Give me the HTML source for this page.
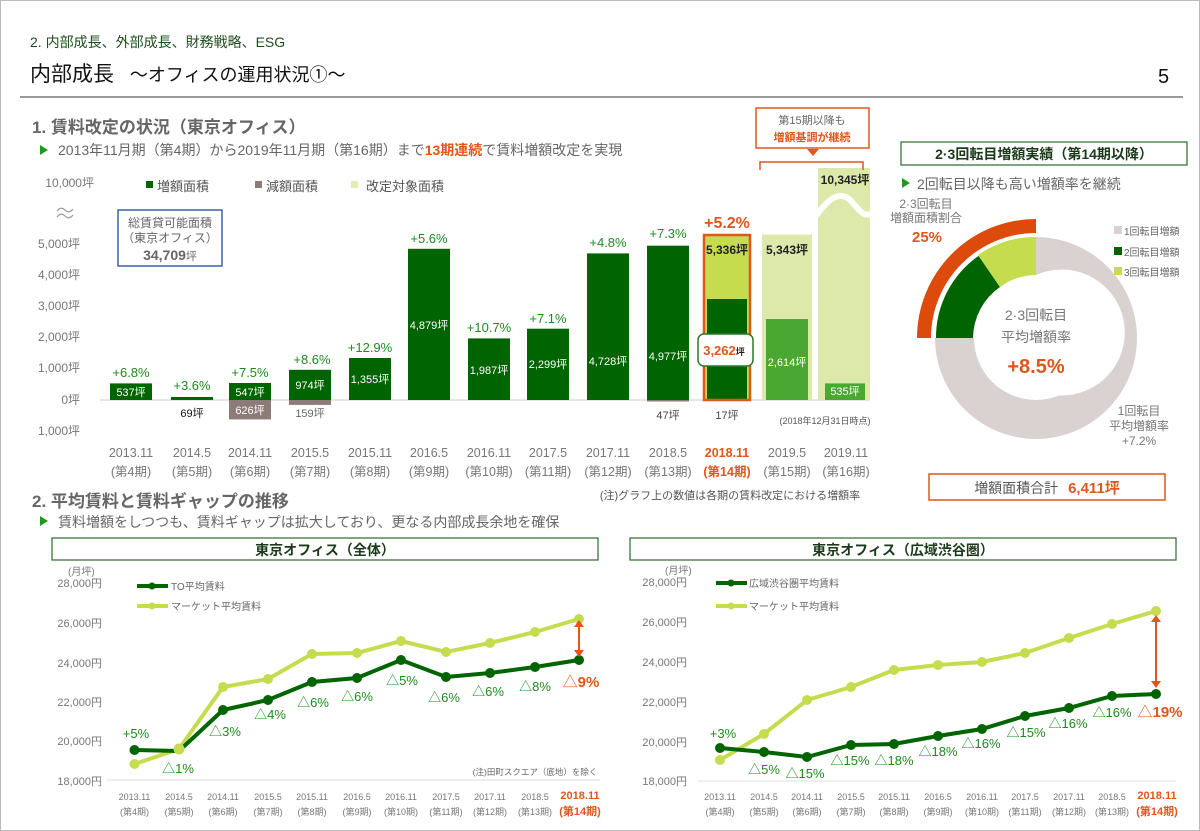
<!DOCTYPE html>
<html><head><meta charset="utf-8"><style>
html,body{margin:0;padding:0;background:#fff}
svg{display:block;font-family:"Liberation Sans","Noto Sans CJK JP",sans-serif}
</style></head><body>
<svg width="1200" height="831" viewBox="0 0 1200 831" xmlns="http://www.w3.org/2000/svg">
<rect x="0.5" y="0.5" width="1199" height="830" fill="#fff" stroke="#bbb"/>
<!-- header -->
<text x="30" y="47" font-size="14" fill="#1f4e1f">2. 内部成長、外部成長、財務戦略、ESG</text>
<text x="30" y="81" font-size="21" fill="#111">内部成長 <tspan font-size="18" dx="10">～オフィスの運用状況①～</tspan></text>
<text x="1158" y="83" font-size="20" fill="#111">5</text>
<line x1="20" y1="97" x2="1183" y2="97" stroke="#333" stroke-width="1"/>

<!-- section 1 -->
<text x="32" y="133" font-size="17" font-weight="bold" fill="#666">1. 賃料改定の状況（東京オフィス）</text>
<path d="M40,145 l8,5 l-8,5z" fill="#1e9a1e"/>
<text x="58" y="155" font-size="14" fill="#666">2013年11月期（第4期）から2019年11月期（第16期）まで<tspan fill="#e0561c" font-weight="bold">13期連続</tspan>で賃料増額改定を実現</text>

<!-- y axis bar chart -->
<g font-size="12" fill="#777" text-anchor="end">
<text x="94" y="187">10,000坪</text>
<text x="80" y="248">5,000坪</text>
<text x="80" y="279">4,000坪</text>
<text x="80" y="310">3,000坪</text>
<text x="80" y="341">2,000坪</text>
<text x="80" y="372">1,000坪</text>
<text x="80" y="404">0坪</text>
<text x="80" y="435">1,000坪</text>
</g>
<path d="M57,211 q4,-5 8,-1 t8,-1 M57,217 q4,-5 8,-1 t8,-1" stroke="#999" stroke-width="1.2" fill="none"/>
<!-- legend -->
<rect x="146" y="181" width="7" height="7" fill="#006400"/><text x="157" y="191" font-size="13" fill="#555">増額面積</text>
<rect x="255" y="181" width="7" height="7" fill="#8c7b78"/><text x="266" y="191" font-size="13" fill="#555">減額面積</text>
<rect x="351" y="181" width="7" height="7" fill="#e2edb2"/><text x="366" y="191" font-size="13" fill="#555">改定対象面積</text>
<!-- box -->
<rect x="118" y="210" width="104" height="56" fill="#fff" stroke="#3a62a8" stroke-width="1.5"/>
<g text-anchor="middle" fill="#666"><text x="170" y="227" font-size="12">総賃貸可能面積</text><text x="170" y="242" font-size="12">（東京オフィス）</text><text x="170" y="260" font-size="14" font-weight="bold">34,709<tspan font-size="11" font-weight="normal">坪</tspan></text></g>

<line x1="100" y1="400" x2="870" y2="400" stroke="#ddd" stroke-width="1.5"/>
<!-- bars -->
<g fill="#006400">
<rect x="110" y="383.4" width="42" height="16.6"/>
<rect x="171" y="397" width="42" height="3"/>
<rect x="229" y="383" width="42" height="17"/>
<rect x="289" y="369.8" width="42" height="30.2"/>
<rect x="349" y="358" width="42" height="42"/>
<rect x="408" y="248.8" width="42" height="151.2"/>
<rect x="468" y="338.4" width="42" height="61.6"/>
<rect x="527" y="328.7" width="42" height="71.3"/>
<rect x="587" y="253.4" width="42" height="146.6"/>
<rect x="647" y="245.7" width="42" height="154.3"/>
</g>
<g fill="#8c7b78">
<rect x="229" y="400" width="42" height="19.4"/>
<rect x="289" y="400" width="42" height="4.9"/>
<rect x="647" y="400" width="42" height="1.5"/>
</g>
<!-- 2018.11 -->
<rect x="704" y="235" width="46" height="165" fill="#c5dc4f"/>
<rect x="707" y="299" width="40" height="101" fill="#006400"/>
<rect x="704" y="235" width="46" height="165" fill="none" stroke="#e0561c" stroke-width="2.5"/>
<!-- 2019.5 -->
<rect x="762" y="234.6" width="50" height="165.4" fill="#dde9ab"/>
<rect x="766" y="319" width="42" height="81" fill="#4aa832"/>
<!-- 2019.11 -->
<rect x="818" y="168" width="52" height="232" fill="#dde9ab"/>
<path d="M816,216 C830,196 842,190 852,202 S864,216 872,214" stroke="#fff" stroke-width="6" fill="none"/>
<rect x="825" y="383.4" width="40" height="16.6" fill="#4aa832"/>

<!-- pct labels -->
<g font-size="13" fill="#1e8a1e" text-anchor="middle">
<text x="131" y="377">+6.8%</text>
<text x="192" y="390">+3.6%</text>
<text x="250" y="377">+7.5%</text>
<text x="312" y="364">+8.6%</text>
<text x="370" y="352">+12.9%</text>
<text x="429" y="243">+5.6%</text>
<text x="489" y="332">+10.7%</text>
<text x="548" y="323">+7.1%</text>
<text x="608" y="247">+4.8%</text>
<text x="668" y="238">+7.3%</text>
</g>
<text x="727" y="228" font-size="16" font-weight="bold" fill="#e0561c" text-anchor="middle">+5.2%</text>
<!-- value labels -->
<g font-size="11" fill="#fff" text-anchor="middle">
<text x="131" y="396">537坪</text>
<text x="250" y="396">547坪</text>
<text x="250" y="414">626坪</text>
<text x="310" y="389">974坪</text>
<text x="370" y="383">1,355坪</text>
<text x="429" y="329">4,879坪</text>
<text x="489" y="374">1,987坪</text>
<text x="548" y="368">2,299坪</text>
<text x="608" y="365">4,728坪</text>
<text x="668" y="360">4,977坪</text>
<text x="787" y="366">2,614坪</text>
<text x="845" y="395">535坪</text>
</g>
<g font-size="11" text-anchor="middle">
<text x="192" y="417" fill="#111">69坪</text>
<text x="310" y="417" fill="#666">159坪</text>
<text x="668" y="419" fill="#444">47坪</text>
<text x="727" y="419" fill="#444">17坪</text>
</g>
<g font-size="12" font-weight="bold" fill="#222" text-anchor="middle">
<text x="727" y="254">5,336坪</text>
<text x="787" y="254">5,343坪</text>
<text x="845" y="184">10,345坪</text>
</g>
<rect x="698" y="334" width="55" height="32" rx="6" fill="#fff" stroke="#2a7a2a" stroke-width="1.5"/>
<text x="724" y="355" font-size="13" font-weight="bold" fill="#e0561c" text-anchor="middle">3,262<tspan font-size="9" fill="#222">坪</tspan></text>
<text x="825" y="424" font-size="9" fill="#555" text-anchor="middle">(2018年12月31日時点)</text>

<!-- callout -->
<rect x="756" y="108" width="113" height="40" fill="#fff" stroke="#e0561c" stroke-width="1.5"/>
<text x="812" y="124" font-size="11" fill="#666" text-anchor="middle">第15期以降も</text>
<text x="812" y="141" font-size="11" font-weight="bold" fill="#e0561c" text-anchor="middle">増額基調が継続</text>
<path d="M807,149 h12 l-6,7z" fill="#e0561c"/>
<path d="M760,170 v-8 h103 v8" fill="none" stroke="#e0561c" stroke-width="1.5"/>

<!-- x labels bar chart -->
<g font-size="12.5" fill="#777" text-anchor="middle">
<text x="131" y="457">2013.11</text><text x="131" y="476">(第4期)</text>
<text x="192" y="457">2014.5</text><text x="192" y="476">(第5期)</text>
<text x="250" y="457">2014.11</text><text x="250" y="476">(第6期)</text>
<text x="310" y="457">2015.5</text><text x="310" y="476">(第7期)</text>
<text x="370" y="457">2015.11</text><text x="370" y="476">(第8期)</text>
<text x="429" y="457">2016.5</text><text x="429" y="476">(第9期)</text>
<text x="489" y="457">2016.11</text><text x="489" y="476">(第10期)</text>
<text x="548" y="457">2017.5</text><text x="548" y="476">(第11期)</text>
<text x="608" y="457">2017.11</text><text x="608" y="476">(第12期)</text>
<text x="668" y="457">2018.5</text><text x="668" y="476">(第13期)</text>
<text x="787" y="457">2019.5</text><text x="787" y="476">(第15期)</text>
<text x="846" y="457">2019.11</text><text x="846" y="476">(第16期)</text>
</g>
<g font-size="12.5" fill="#e0561c" font-weight="bold" text-anchor="middle"><text x="727" y="457">2018.11</text><text x="727" y="476">(第14期)</text></g>
<text x="730" y="499" font-size="11" fill="#555" text-anchor="middle">(注)グラフ上の数値は各期の賃料改定における増額率</text>

<!-- right panel -->
<rect x="901" y="142" width="286" height="23" fill="#fff" stroke="#2a6a2a" stroke-width="1.2"/>
<text x="1044" y="159" font-size="14" font-weight="bold" fill="#1a3a1a" text-anchor="middle">2·3回転目増額実績（第14期以降）</text>
<path d="M902,178 l8,5 l-8,5z" fill="#1e9a1e"/>
<text x="917" y="189" font-size="14" fill="#666">2回転目以降も高い増額率を継続</text>
<path d="M1036,237 A101,101 0 1 1 935,338 L999,338 A63,63 0 1 0 1036,275 Z" fill="#d9d2d0"/>
<path d="M935,338 A101,101 0 0 1 978,255 L1000,287 A63,63 0 0 0 973,338 Z" fill="#006400"/>
<path d="M978,255 A101,101 0 0 1 1036,237 L1036,275 A63,63 0 0 0 1000,287 Z" fill="#c5dc4f"/>
<path d="M935,338 A101,101 0 0 1 978,255" stroke="#fff" stroke-width="2" fill="none"/>
<path d="M1036,219 A119,119 0 0 0 917,338 L931,338 A105,105 0 0 1 1036,233 Z" fill="#dc4a0c"/>
<circle cx="1036" cy="338" r="62" fill="#fff"/>
<g text-anchor="middle"><text x="1036" y="320" font-size="14" fill="#777">2·3回転目</text>
<text x="1036" y="342" font-size="14" fill="#777">平均増額率</text>
<text x="1036" y="373" font-size="20" font-weight="bold" fill="#e0561c">+8.5%</text>
<text x="926" y="208" font-size="12" fill="#777">2·3回転目</text>
<text x="926" y="222" font-size="12" fill="#777">増額面積割合</text>
<text x="927" y="242" font-size="15" font-weight="bold" fill="#e0561c">25%</text>
<text x="1139" y="415" font-size="12" fill="#777">1回転目</text>
<text x="1139" y="430" font-size="12" fill="#777">平均増額率</text>
<text x="1139" y="445" font-size="12" fill="#777">+7.2%</text></g>
<rect x="1114" y="226" width="8" height="8" fill="#d9d2d0"/><text x="1124" y="235" font-size="10" fill="#666">1回転目増額</text>
<rect x="1114" y="247" width="8" height="8" fill="#006400"/><text x="1124" y="256" font-size="10" fill="#666">2回転目増額</text>
<rect x="1114" y="267" width="8" height="8" fill="#c5dc4f"/><text x="1124" y="276" font-size="10" fill="#666">3回転目増額</text>
<rect x="929" y="474" width="236" height="26" fill="#fff" stroke="#e0561c" stroke-width="1.5"/>
<text x="1047" y="493" font-size="14" fill="#555" text-anchor="middle">増額面積合計 <tspan font-size="15" font-weight="bold" fill="#e0561c" dx="6">6,411坪</tspan></text>

<!-- section 2 -->
<text x="32" y="507" font-size="17" font-weight="bold" fill="#666">2. 平均賃料と賃料ギャップの推移</text>
<path d="M40,516 l8,5 l-8,5z" fill="#1e9a1e"/>
<text x="58" y="527" font-size="14" fill="#666">賃料増額をしつつも、賃料ギャップは拡大しており、更なる内部成長余地を確保</text>

<!-- left line chart -->
<rect x="52" y="538" width="546" height="22" fill="#fff" stroke="#2a6a2a" stroke-width="1.2"/>
<text x="325" y="555" font-size="14" font-weight="bold" fill="#1a3a1a" text-anchor="middle">東京オフィス（全体）</text>
<text x="68" y="575" font-size="10" fill="#777">(月坪)</text>
<g font-size="11" fill="#777" text-anchor="end">
<text x="102" y="587">28,000円</text><text x="102" y="627">26,000円</text><text x="102" y="667">24,000円</text>
<text x="102" y="706">22,000円</text><text x="102" y="745">20,000円</text><text x="102" y="785">18,000円</text></g>
<line x1="107" y1="780" x2="600" y2="780" stroke="#ddd"/>
<line x1="137" y1="586" x2="168" y2="586" stroke="#006400" stroke-width="4"/><circle cx="152" cy="586" r="3.5" fill="#006400"/>
<text x="171" y="590" font-size="10" fill="#666">TO平均賃料</text>
<line x1="137" y1="606" x2="168" y2="606" stroke="#c5dc4f" stroke-width="4"/><circle cx="152" cy="606" r="3.5" fill="#c5dc4f"/>
<text x="171" y="610" font-size="10" fill="#666">マーケット平均賃料</text>
<g fill="#c5dc4f"><polyline fill="none" stroke="#c5dc4f" stroke-width="4" points="134.5,764 179,749 223,687 268,679 312,654 357,653 401,641 446,652 490,643 535,632 579,619"/>
<circle cx="134.5" cy="764" r="5"/><circle cx="223" cy="687" r="5"/><circle cx="268" cy="679" r="5"/><circle cx="312" cy="654" r="5"/><circle cx="357" cy="653" r="5"/><circle cx="401" cy="641" r="5"/><circle cx="446" cy="652" r="5"/><circle cx="490" cy="643" r="5"/><circle cx="535" cy="632" r="5"/><circle cx="579" cy="619" r="5"/></g>
<g fill="#006400"><polyline fill="none" stroke="#006400" stroke-width="4" points="134.5,750 179,751 223,710 268,700 312,682 357,678 401,660 446,677 490,673 535,667 579,660"/>
<circle cx="134.5" cy="750" r="5"/><circle cx="223" cy="710" r="5"/><circle cx="268" cy="700" r="5"/><circle cx="312" cy="682" r="5"/><circle cx="357" cy="678" r="5"/><circle cx="401" cy="660" r="5"/><circle cx="446" cy="677" r="5"/><circle cx="490" cy="673" r="5"/><circle cx="535" cy="667" r="5"/><circle cx="579" cy="660" r="5"/></g>
<circle cx="179" cy="749" r="5.5" fill="#c5dc4f"/>
<g font-size="13" fill="#1e8a1e" text-anchor="middle">
<text x="136" y="738">+5%</text><text x="178" y="773">△1%</text><text x="225" y="736">△3%</text><text x="270" y="719">△4%</text>
<text x="313" y="707">△6%</text><text x="357" y="701">△6%</text><text x="402" y="685">△5%</text><text x="444" y="702">△6%</text>
<text x="488" y="696">△6%</text><text x="535" y="691">△8%</text></g>
<text x="581" y="687" font-size="15" fill="#e0561c" text-anchor="middle">△<tspan font-weight="bold">9%</tspan></text>
<path d="M579,625 v28" stroke="#e0561c" stroke-width="2"/><path d="M574,627 h10 l-5,-7z M574,650 h10 l-5,7z" fill="#e0561c"/>
<text x="535" y="775" font-size="8.5" fill="#666" text-anchor="middle">(注)田町スクエア（底地）を除く</text>
<g font-size="9" fill="#777" text-anchor="middle">
<text x="134.5" y="800">2013.11</text><text x="134.5" y="815">(第4期)</text>
<text x="179" y="800">2014.5</text><text x="179" y="815">(第5期)</text>
<text x="223" y="800">2014.11</text><text x="223" y="815">(第6期)</text>
<text x="268" y="800">2015.5</text><text x="268" y="815">(第7期)</text>
<text x="312" y="800">2015.11</text><text x="312" y="815">(第8期)</text>
<text x="357" y="800">2016.5</text><text x="357" y="815">(第9期)</text>
<text x="401" y="800">2016.11</text><text x="401" y="815">(第10期)</text>
<text x="446" y="800">2017.5</text><text x="446" y="815">(第11期)</text>
<text x="490" y="800">2017.11</text><text x="490" y="815">(第12期)</text>
<text x="535" y="800">2018.5</text><text x="535" y="815">(第13期)</text></g>
<g font-size="11" font-weight="bold" fill="#e0561c" text-anchor="middle"><text x="580" y="799">2018.11</text><text x="580" y="815">(第14期)</text></g>

<!-- right line chart -->
<rect x="630" y="538" width="546" height="22" fill="#fff" stroke="#2a6a2a" stroke-width="1.2"/>
<text x="903" y="555" font-size="14" font-weight="bold" fill="#1a3a1a" text-anchor="middle">東京オフィス（広域渋谷圏）</text>
<text x="665" y="574" font-size="10" fill="#777">(月坪)</text>
<g font-size="11" fill="#777" text-anchor="end">
<text x="687" y="586">28,000円</text><text x="687" y="626">26,000円</text><text x="687" y="666">24,000円</text>
<text x="687" y="706">22,000円</text><text x="687" y="746">20,000円</text><text x="687" y="785">18,000円</text></g>
<line x1="698" y1="781" x2="1176" y2="781" stroke="#ddd"/>
<line x1="716" y1="583" x2="747" y2="583" stroke="#006400" stroke-width="4"/><circle cx="731" cy="583" r="3.5" fill="#006400"/>
<text x="749" y="587" font-size="10" fill="#666">広域渋谷圏平均賃料</text>
<line x1="716" y1="606" x2="747" y2="606" stroke="#c5dc4f" stroke-width="4"/><circle cx="731" cy="606" r="3.5" fill="#c5dc4f"/>
<text x="749" y="610" font-size="10" fill="#666">マーケット平均賃料</text>
<g fill="#c5dc4f"><polyline fill="none" stroke="#c5dc4f" stroke-width="4" points="720,760 764,734 807,700 851,687 894,670 938,665 982,662 1025,653 1069,638 1112,624 1156,611"/>
<circle cx="720" cy="760" r="5"/><circle cx="764" cy="734" r="5"/><circle cx="807" cy="700" r="5"/><circle cx="851" cy="687" r="5"/><circle cx="894" cy="670" r="5"/><circle cx="938" cy="665" r="5"/><circle cx="982" cy="662" r="5"/><circle cx="1025" cy="653" r="5"/><circle cx="1069" cy="638" r="5"/><circle cx="1112" cy="624" r="5"/><circle cx="1156" cy="611" r="5"/></g>
<g fill="#006400"><polyline fill="none" stroke="#006400" stroke-width="4" points="720,748 764,752 807,757 851,745 894,744 938,736 982,729 1025,716 1069,708 1112,696 1156,694"/>
<circle cx="720" cy="748" r="5"/><circle cx="764" cy="752" r="5"/><circle cx="807" cy="757" r="5"/><circle cx="851" cy="745" r="5"/><circle cx="894" cy="744" r="5"/><circle cx="938" cy="736" r="5"/><circle cx="982" cy="729" r="5"/><circle cx="1025" cy="716" r="5"/><circle cx="1069" cy="708" r="5"/><circle cx="1112" cy="696" r="5"/><circle cx="1156" cy="694" r="5"/></g>
<g font-size="13" fill="#1e8a1e" text-anchor="middle">
<text x="723" y="738">+3%</text><text x="764" y="774">△5%</text><text x="805" y="778">△15%</text><text x="850" y="765">△15%</text>
<text x="894" y="765">△18%</text><text x="938" y="756">△18%</text><text x="981" y="748">△16%</text><text x="1026" y="737">△15%</text>
<text x="1068" y="728">△16%</text><text x="1112" y="717">△16%</text></g>
<text x="1160" y="717" font-size="15" fill="#e0561c" text-anchor="middle">△<tspan font-weight="bold">19%</tspan></text>
<path d="M1156,618 v66" stroke="#e0561c" stroke-width="2"/><path d="M1151,622 h10 l-5,-7z M1151,681 h10 l-5,7z" fill="#e0561c"/>
<g font-size="9" fill="#777" text-anchor="middle">
<text x="720" y="800">2013.11</text><text x="720" y="815">(第4期)</text>
<text x="764" y="800">2014.5</text><text x="764" y="815">(第5期)</text>
<text x="807" y="800">2014.11</text><text x="807" y="815">(第6期)</text>
<text x="851" y="800">2015.5</text><text x="851" y="815">(第7期)</text>
<text x="894" y="800">2015.11</text><text x="894" y="815">(第8期)</text>
<text x="938" y="800">2016.5</text><text x="938" y="815">(第9期)</text>
<text x="982" y="800">2016.11</text><text x="982" y="815">(第10期)</text>
<text x="1025" y="800">2017.5</text><text x="1025" y="815">(第11期)</text>
<text x="1069" y="800">2017.11</text><text x="1069" y="815">(第12期)</text>
<text x="1112" y="800">2018.5</text><text x="1112" y="815">(第13期)</text></g>
<g font-size="11" font-weight="bold" fill="#e0561c" text-anchor="middle"><text x="1157" y="799">2018.11</text><text x="1157" y="815">(第14期)</text></g>
</svg>
</body></html>
